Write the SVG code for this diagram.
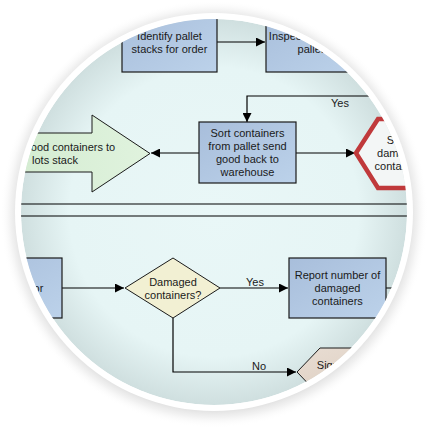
<svg xmlns="http://www.w3.org/2000/svg" width="428" height="428" viewBox="0 0 428 428">
<defs>
<style>
.t{font-family:"Liberation Sans",Arial,sans-serif;font-size:11px;fill:#1a1a1a;text-anchor:middle}
.c{fill:none;stroke:#000;stroke-width:1.2}
.box{fill:url(#blue);stroke:#1a1a1a;stroke-width:1.2}
</style>
<linearGradient id="blue" x1="0" y1="0" x2="1" y2="1">
<stop offset="0" stop-color="#a8bedb"/>
<stop offset="1" stop-color="#bcd2ea"/>
</linearGradient>
<linearGradient id="green" x1="0" y1="0" x2="1" y2="0">
<stop offset="0" stop-color="#cfe9cc"/>
<stop offset="1" stop-color="#e0f3de"/>
</linearGradient>
<linearGradient id="beige" x1="0" y1="0" x2="1" y2="1">
<stop offset="0" stop-color="#e8ddd3"/>
<stop offset="1" stop-color="#d9c8b9"/>
</linearGradient>
<radialGradient id="bg" cx="214" cy="212" r="193" gradientUnits="userSpaceOnUse">
<stop offset="0" stop-color="#e9f7f7"/>
<stop offset="0.75" stop-color="#e6f5f5"/>
<stop offset="1" stop-color="#cfdfdf"/>
</radialGradient>
<radialGradient id="sh" cx="214" cy="214" r="214" gradientUnits="userSpaceOnUse">
<stop offset="0.88" stop-color="#9a9a9a" stop-opacity="0.55"/>
<stop offset="0.95" stop-color="#c8c8c8" stop-opacity="0.25"/>
<stop offset="1" stop-color="#ffffff" stop-opacity="0"/>
</radialGradient>
<clipPath id="lens"><circle cx="214" cy="212" r="193"/></clipPath>
<marker id="ah" viewBox="0 0 10 10" refX="10" refY="5" markerWidth="9" markerHeight="9" markerUnits="userSpaceOnUse" orient="auto">
<path d="M0,0 L10,5 L0,10 z" fill="#000"/>
</marker>
</defs>
<rect width="428" height="428" fill="#fff"/>
<circle cx="214" cy="214" r="214" fill="url(#sh)"/>
<circle cx="214" cy="212" r="199" fill="#fff"/>
<g clip-path="url(#lens)">
<circle cx="214" cy="212" r="193" fill="url(#bg)"/>
<g id="connectors">
<path class="c" d="M217,42 H265" marker-end="url(#ah)"/>
<path class="c" d="M430,96 H247 V122" marker-end="url(#ah)"/>
<path class="c" d="M199,153 H151" marker-end="url(#ah)"/>
<path class="c" d="M296,153 H355" marker-end="url(#ah)"/>
<path class="c" d="M-10,204 H440"/>
<path class="c" d="M-10,216 H440"/>
<path class="c" d="M62,288 H124" marker-end="url(#ah)"/>
<path class="c" d="M220,288 H288" marker-end="url(#ah)"/>
<path class="c" d="M386,288 H440"/>
<path class="c" d="M173,318 V372 H296" marker-end="url(#ah)"/>
<text class="t" x="340" y="107">Yes</text>
<text class="t" x="255" y="286">Yes</text>
<text class="t" x="259" y="370">No</text>
</g>
<g id="identify">
<rect class="box" x="122" y="10" width="95" height="62"/>
<text class="t" x="169.5" y="40">Identify pallet</text>
<text class="t" x="169.5" y="53">stacks for order</text>
</g>
<g id="inspect">
<rect class="box" x="266" y="10" width="95" height="62"/>
<text class="t" x="313.5" y="40">Inspect containers</text>
<text class="t" x="313.5" y="53">pallets</text>
</g>
<g id="sort">
<rect class="box" x="199" y="122" width="97" height="61"/>
<text class="t" x="247.5" y="137">Sort containers</text>
<text class="t" x="247.5" y="150">from pallet send</text>
<text class="t" x="247.5" y="163">good back to</text>
<text class="t" x="247.5" y="176">warehouse</text>
</g>
<g id="move">
<path d="M-40,133 H92 V115 L150,153.5 L92,192 V172 H-40 z" fill="url(#green)" stroke="#1a1a1a" stroke-width="1"/>
<text class="t" x="55" y="151">Move good containers to</text>
<text class="t" x="55" y="164">lots stack</text>
</g>
<g id="store">
<path d="M356,153 L378,119 H460 L482,153 L460,188 H378 z" fill="#f3f6f6" stroke="#c0393b" stroke-width="4.5" stroke-linejoin="miter"/>
<text class="t" x="400" y="144">Store</text>
<text class="t" x="400" y="157">damaged</text>
<text class="t" x="400" y="170">containers</text>
</g>
<g id="check">
<rect class="box" x="-35" y="258" width="97" height="60"/>
<text class="t" x="13" y="279">Check</text>
<text class="t" x="10" y="292">containers for</text>
<text class="t" x="13" y="305">damage</text>
</g>
<g id="damaged">
<path d="M125,288 L173,258 L220,288 L173,318 z" fill="#f2f0d3" stroke="#1a1a1a" stroke-width="1"/>
<text class="t" x="173" y="286">Damaged</text>
<text class="t" x="173" y="299">containers?</text>
</g>
<g id="report">
<rect class="box" x="289" y="258" width="97" height="60"/>
<text class="t" x="337.5" y="279">Report number of</text>
<text class="t" x="337.5" y="292">damaged</text>
<text class="t" x="337.5" y="305">containers</text>
</g>
<g id="sign">
<path d="M297,372 L320,348 H420 L440,372 L420,396 H320 z" fill="url(#beige)" stroke="#1a1a1a" stroke-width="1"/>
<text class="t" x="343" y="369">Sign off on</text>
<text class="t" x="343" y="382">shipment</text>
</g>
</g>
</svg>
